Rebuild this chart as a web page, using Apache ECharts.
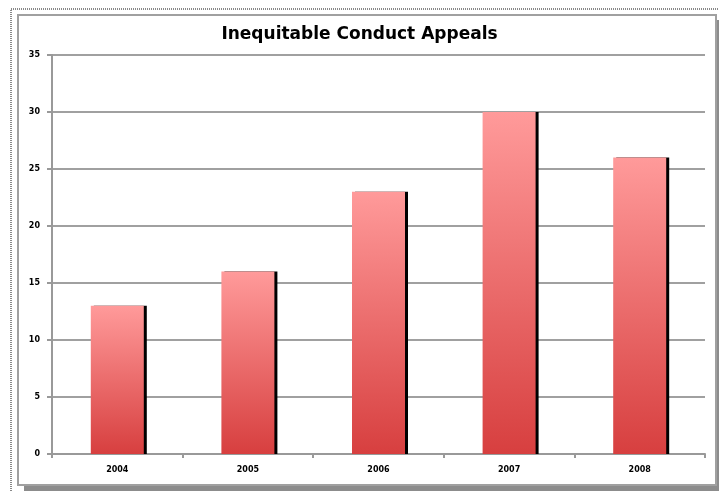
<!DOCTYPE html>
<html lang="en">
<head>
    <meta charset="UTF-8">
    <title>Inequitable Conduct Appeals</title>
    <script src="https://cdn.jsdelivr.net/npm/echarts@6/dist/echarts.min.js"></script>
    <style>
        html, body { margin: 0; padding: 0; background: #fff; }
        #chart { width: 719px; height: 491px; }
    </style>
</head>
<body>
    <div id="chart"></div>
    <script>
        var years = ['2004', '2005', '2006', '2007', '2008'];
        var appeals = [13, 16, 23, 30, 26];
        var yMax = 35;
        var yStep = 5;

        var myChart = echarts.init(document.getElementById('chart'));
        var option = {
            backgroundColor: '#fff',
            animation: false,
            title: {
                text: 'Inequitable Conduct Appeals',
                left: 'center',
                top: 21,
                textStyle: {
                    fontFamily: 'DejaVu Sans',
                    fontSize: 17,
                    fontWeight: 'bold',
                    color: '#000'
                }
            },
            graphic: [{
                // outer dotted frame
                type: 'rect',
                shape: { x: 11, y: 9, width: 720, height: 490 },
                style: { fill: 'none', stroke: '#888', lineWidth: 2, lineDash: [1, 1] },
                silent: true
            }, {
                // drop shadow
                type: 'rect',
                shape: { x: 24, y: 20, width: 696, height: 472 },
                style: { fill: '#8c8c8c' },
                silent: true, z: -1
            }, {
                type: 'rect',
                shape: { x: 18, y: 15, width: 698, height: 470 },
                style: { fill: '#fff', stroke: '#a0a0a0', lineWidth: 2 },
                silent: true, z: -1
            }],
            grid: {
                left: 52,
                right: 14,
                top: 55,
                bottom: 37
            },
            xAxis: {
                type: 'category',
                data: years,
                axisLine: { lineStyle: { color: '#999', width: 2 } },
                axisTick: { show: true, length: 4, lineStyle: { color: '#999', width: 2 } },
                axisLabel: {
                    margin: 12,
                    fontFamily: 'DejaVu Sans',
                    fontSize: 8,
                    fontWeight: 'bold',
                    color: '#000'
                }
            },
            yAxis: {
                type: 'value',
                min: 0,
                max: yMax,
                interval: yStep,
                axisLine: { show: true, lineStyle: { color: '#999', width: 2 } },
                axisTick: { show: true, length: 5, lineStyle: { color: '#999', width: 2 } },
                splitLine: { lineStyle: { color: '#a0a0a0', width: 2 } },
                axisLabel: {
                    margin: 12,
                    fontFamily: 'DejaVu Sans',
                    fontSize: 8,
                    fontWeight: 'bold',
                    color: '#000'
                }
            },
            series: [{
                type: 'bar',
                data: appeals,
                barWidth: 53,
                itemStyle: {
                    color: new echarts.graphic.LinearGradient(0, 0, 0, 1, [
                        { offset: 0, color: '#ff9a9a' },
                        { offset: 1, color: '#d73f3f' }
                    ]),
                    shadowColor: '#000',
                    shadowOffsetX: 3,
                    shadowOffsetY: 0,
                    shadowBlur: 0
                }
            }]
        };
        myChart.setOption(option);
    </script>
</body>
</html>
